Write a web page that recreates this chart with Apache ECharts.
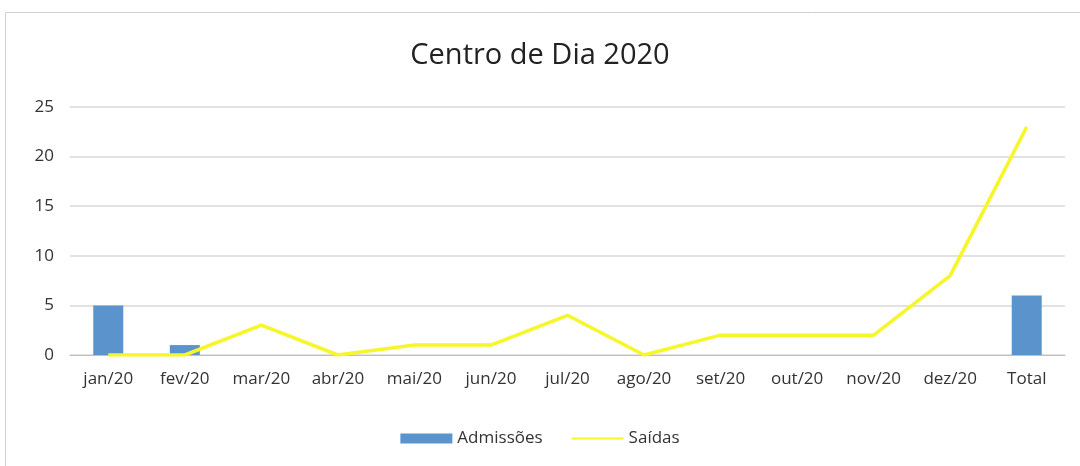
<!DOCTYPE html>
<html lang="pt" style="height: 100%">
<head>
  <meta charset="utf-8">
</head>
<body style="height: 100%; margin: 0; background: #fff">
  <div id="container" style="width: 1080px; height: 466px"></div>
  <script src="https://fastly.jsdelivr.net/npm/echarts@6/dist/echarts.min.js"></script>
  <script>
    const months = ['jan/20', 'fev/20', 'mar/20', 'abr/20', 'mai/20', 'jun/20',
      'jul/20', 'ago/20', 'set/20', 'out/20', 'nov/20', 'dez/20', 'Total'];
    const admissoes = [5, 1, 0, 0, 0, 0, 0, 0, 0, 0, 0, 0, 6];
    const saidas = [0, 0, 3, 0, 1, 1, 4, 0, 2, 2, 2, 8, 23];

    const font = '"Open Sans", "DejaVu Sans", sans-serif';
    const chart = echarts.init(document.getElementById('container'), null, { renderer: 'canvas' });

    chart.setOption({
      backgroundColor: '#fff',
      animation: false,
      graphic: [{
        type: 'rect',
        shape: { x: 5.5, y: 12.5, width: 1080, height: 460 },
        style: { fill: 'none', stroke: '#d0d0d0', lineWidth: 1 },
        silent: true
      }],
      title: {
        text: 'Centro de Dia 2020',
        left: 'center',
        top: 36,
        textStyle: { fontFamily: font, fontSize: 29, fontWeight: 'normal', color: '#222' }
      },
      legend: {
        bottom: 14,
        left: 'center',
        itemGap: 28,
        itemWidth: 52,
        itemHeight: 10,
        textStyle: { fontFamily: font, fontSize: 17, color: '#333' },
        data: [
          { name: 'Admissões', icon: 'rect' },
          { name: 'Saídas', itemStyle: { opacity: 0 } }
        ]
      },
      grid: { left: 70, right: 15, top: 107, bottom: 111 },
      xAxis: {
        type: 'category',
        data: months,
        axisTick: { show: false },
        axisLine: { lineStyle: { color: '#bfbfbf' } },
        axisLabel: { fontFamily: font, fontSize: 17, color: '#333', margin: 16, interval: 0 }
      },
      yAxis: {
        type: 'value',
        min: 0,
        max: 25,
        interval: 5,
        axisLabel: { fontFamily: font, fontSize: 17, color: '#333', margin: 16 },
        splitLine: { lineStyle: { color: '#d9d9d9', width: 1.5 } }
      },
      series: [
        {
          name: 'Admissões',
          type: 'bar',
          data: admissoes,
          barWidth: 30,
          itemStyle: { color: '#5b93cc' }
        },
        {
          name: 'Saídas',
          type: 'line',
          data: saidas,
          symbol: 'none',
          smooth: false,
          lineStyle: { color: '#f6f62a', width: 3.5 },
          itemStyle: { color: '#f6f62a' }
        }
      ]
    });

    window.addEventListener('resize', chart.resize);
  </script>
</body>
</html>
